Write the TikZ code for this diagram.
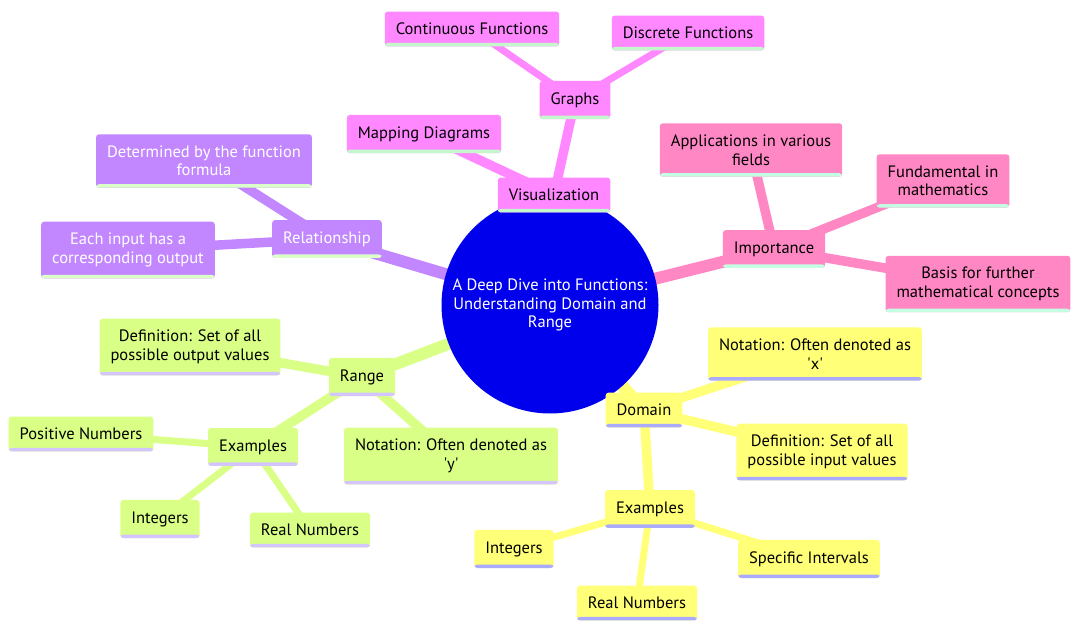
\documentclass[tikz,border=0pt]{standalone}
\usepackage{fontspec}
\setmainfont{PT Sans}
\usetikzlibrary{backgrounds}

\definecolor{rootblue}{HTML}{0000EC}
\definecolor{domfill}{HTML}{FFFF78}
\definecolor{domline}{HTML}{AAAAFF}
\definecolor{rngfill}{HTML}{D9FF87}
\definecolor{rngline}{HTML}{D4C4FF}
\definecolor{relfill}{HTML}{C287FF}
\definecolor{relline}{HTML}{DAFFC8}
\definecolor{visfill}{HTML}{FF87FF}
\definecolor{visline}{HTML}{C4F7CC}
\definecolor{impfill}{HTML}{FF87C4}
\definecolor{impline}{HTML}{C4FFE4}

\begin{document}
\begin{tikzpicture}[
    x=1pt, y=-1pt,
    font=\fontsize{16.5}{18.5}\selectfont,
    uline/.style={path picture={\fill[#1] (path picture bounding box.south west)
        rectangle ([yshift=3.5pt]path picture bounding box.south east);}},
    topic/.style={rectangle, rounded corners=3pt, inner xsep=11pt, inner ysep=11.5pt,
        align=center, text=black},
    dom node/.style={topic, fill=domfill, uline=domline},
    rng node/.style={topic, fill=rngfill, uline=rngline},
    rel node/.style={topic, fill=relfill, uline=relline, text=white},
    vis node/.style={topic, fill=visfill, uline=visline},
    imp node/.style={topic, fill=impfill, uline=impline},
    root node/.style={circle, fill=rootblue, text=white, align=center,
        minimum size=217pt, inner sep=0pt}
]
    \useasboundingbox (0,0) rectangle (1083,631);

    % Centre
    \node[root node] (root) at (550,305)
        {A Deep Dive into Functions:\\Understanding Domain and\\Range};

    % Visualization branch
    \node[vis node] (vis) at (554,195) {Visualization};
    \node[vis node] (graphs) at (575,100) {Graphs};
    \node[vis node] (contf) at (472,29) {Continuous Functions};
    \node[vis node] (discf) at (688,33) {Discrete Functions};
    \node[vis node] (mapd) at (424,134) {Mapping Diagrams};

    % Importance branch
    \node[imp node] (imp) at (774,249) {Importance};
    \node[imp node] (appl) at (751,150) {Applications in various\\fields};
    \node[imp node] (fund) at (943,181) {Fundamental in\\mathematics};
    \node[imp node] (basis) at (978,284) {Basis for further\\mathematical concepts};

    % Relationship branch
    \node[rel node] (rel) at (327,239) {Relationship};
    \node[rel node] (det) at (204,161) {Determined by the function\\formula};
    \node[rel node] (each) at (128,250) {Each input has a\\corresponding output};

    % Range branch
    \node[rng node] (rng) at (362,377) {Range};
    \node[rng node] (rdef) at (190,347) {Definition: Set of all\\possible output values};
    \node[rng node] (rex) at (253,447) {Examples};
    \node[rng node] (rnot) at (451,456) {Notation: Often denoted as\\\textquotesingle y\textquotesingle};
    \node[rng node] (rpos) at (81,434) {Positive Numbers};
    \node[rng node] (rint) at (160,519) {Integers};
    \node[rng node] (rreal) at (310,530) {Real Numbers};

    % Domain branch
    \node[dom node] (dom) at (644,410) {Domain};
    \node[dom node] (dnot) at (815,354) {Notation: Often denoted as\\\textquotesingle x\textquotesingle};
    \node[dom node] (ddef) at (822,452) {Definition: Set of all\\possible input values};
    \node[dom node] (dex) at (650,509) {Examples};
    \node[dom node] (dint) at (514,549) {Integers};
    \node[dom node] (dreal) at (637,603) {Real Numbers};
    \node[dom node] (dspec) at (809,559) {Specific Intervals};

    % Branches, centre to centre, under the nodes
    \begin{scope}[on background layer]
        \foreach \from/\to/\w/\col in {
            root/vis/12/visfill, vis/graphs/9.5/visfill, vis/mapd/9.5/visfill,
            graphs/contf/7/visfill, graphs/discf/7/visfill,
            root/imp/12/impfill, imp/appl/9.5/impfill, imp/fund/9.5/impfill,
            imp/basis/9.5/impfill,
            root/rel/12/relfill, rel/det/9.5/relfill, rel/each/9.5/relfill,
            root/rng/12/rngfill, rng/rdef/9.5/rngfill, rng/rex/9.5/rngfill,
            rng/rnot/9.5/rngfill, rex/rpos/7/rngfill, rex/rint/7/rngfill,
            rex/rreal/7/rngfill,
            root/dom/12/domfill, dom/dnot/9.5/domfill, dom/ddef/9.5/domfill,
            dom/dex/9.5/domfill, dex/dint/7/domfill, dex/dreal/7/domfill,
            dex/dspec/7/domfill}
            \draw[draw=\col, line width=\w pt] (\from.center) -- (\to.center);
    \end{scope}
\end{tikzpicture}
\end{document}
